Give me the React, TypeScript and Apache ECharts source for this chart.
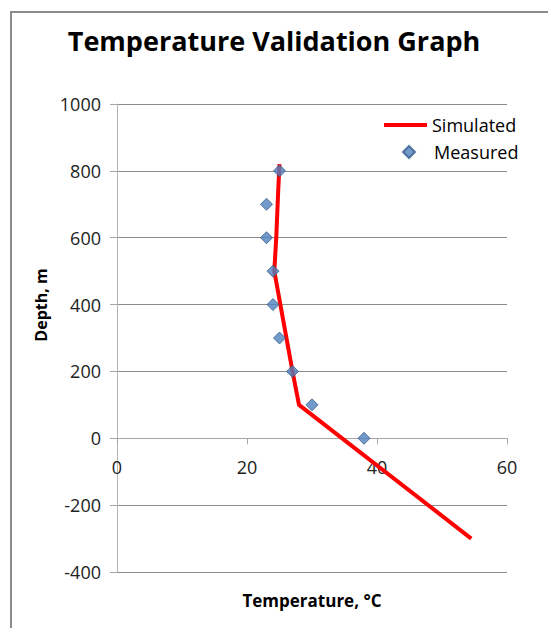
import React, { useEffect, useRef } from "react";
import * as echarts from "echarts";

const xTicks = [0, 20, 40, 60];
const yTicks = [-400, -200, 0, 200, 400, 600, 800, 1000];

// Simulated temperature profile [temperature °C, depth m]
const simulated: [number, number][] = [
  [25.0, 820],
  [24.8, 740],
  [24.5, 600],
  [24.2, 500],
  [27.0, 200],
  [28.0, 100],
  [54.5, -300],
];

// Measured temperatures [temperature °C, depth m]
const measured: [number, number][] = [
  [25, 800],
  [23, 700],
  [23, 600],
  [24, 500],
  [24, 400],
  [25, 300],
  [27, 200],
  [30, 100],
  [38, 0],
];

const FONT = "'Open Sans', 'Noto Sans', sans-serif";

export default function App() {
  const ref = useRef<HTMLDivElement>(null);

  useEffect(() => {
    if (!ref.current) return;
    const chart = echarts.init(ref.current, undefined, { renderer: "svg" });
    chart.setOption({
      animation: false,
      backgroundColor: "#ffffff",
      textStyle: { fontFamily: FONT },
      title: {
        text: "Temperature Validation Graph",
        left: "center",
        top: 22,
        textStyle: { fontFamily: FONT, fontSize: 27, fontWeight: "bold", color: "#000" },
      },
      graphic: [
        {
          type: "rect",
          shape: { x: 11, y: 12, width: 560, height: 640 },
          style: { fill: "none", stroke: "#8c8c8c", lineWidth: 2 },
          silent: true,
        },
      ],
      legend: [
        {
          data: [{ name: "Simulated", icon: "rect" }],
          left: 384,
          top: 116,
          padding: 0,
          itemWidth: 43,
          itemHeight: 4,
          textStyle: { fontFamily: FONT, fontSize: 18, color: "#000" },
        },
        {
          data: [{ name: "Measured", icon: "diamond" }],
          left: 402,
          top: 143,
          padding: 0,
          itemWidth: 12,
          itemHeight: 12,
          textStyle: { fontFamily: FONT, fontSize: 18, color: "#000", padding: [0, 0, 0, 14] },
        },
      ],
      grid: { left: 117, right: 41, top: 104, bottom: 56, containLabel: false, outerBoundsMode: "none" },
      xAxis: {
        type: "value",
        min: 0,
        max: 60,
        interval: 20,
        name: "Temperature, °C",
        nameLocation: "middle",
        nameGap: 20,
        nameTextStyle: { fontFamily: FONT, fontSize: 17, fontWeight: "bold", color: "#000" },
        axisLine: { show: true, onZero: true, lineStyle: { color: "#a6a6a6", width: 1 } },
        axisTick: { show: true, inside: false, length: 6, lineStyle: { color: "#a6a6a6" } },
        axisLabel: {
          margin: -114,
          fontFamily: FONT,
          fontSize: 18,
          color: "#222",
          formatter: (v: number) => (xTicks.includes(v) ? String(v) : ""),
        },
        splitLine: { show: false },
      },
      yAxis: {
        type: "value",
        min: -400,
        max: 1000,
        interval: 200,
        name: "Depth, m",
        nameLocation: "middle",
        nameGap: 67,
        nameTextStyle: {
          fontFamily: FONT,
          fontSize: 16,
          fontWeight: "bold",
          color: "#000",
          padding: [0, 0, 0, 66],
        },
        axisLine: { show: true, lineStyle: { color: "#b5b5b5", width: 1 } },
        axisTick: { show: true, inside: false, length: 7, lineStyle: { color: "#a6a6a6" } },
        axisLabel: {
          margin: 16,
          fontFamily: FONT,
          fontSize: 18,
          color: "#222",
          formatter: (v: number) => (yTicks.includes(v) ? String(v) : ""),
        },
        splitLine: { show: true, lineStyle: { color: "#8c8c8c", width: 1 } },
      },
      series: [
        {
          name: "Simulated",
          type: "line",
          data: simulated,
          showSymbol: false,
          symbol: "none",
          lineStyle: { color: "#ff0000", width: 4 },
          itemStyle: { color: "#ff0000" },
          z: 2,
        },
        {
          name: "Measured",
          type: "scatter",
          data: measured,
          symbol: "diamond",
          symbolSize: 12,
          itemStyle: { color: "#4f81bd", borderColor: "#385d8a", borderWidth: 1 },
          z: 3,
        },
      ],
    });
    return () => chart.dispose();
  }, []);

  return (
    <div
      ref={ref}
      style={{ position: "fixed", left: 0, top: 0, width: 548, height: 628 }}
    />
  );
}
